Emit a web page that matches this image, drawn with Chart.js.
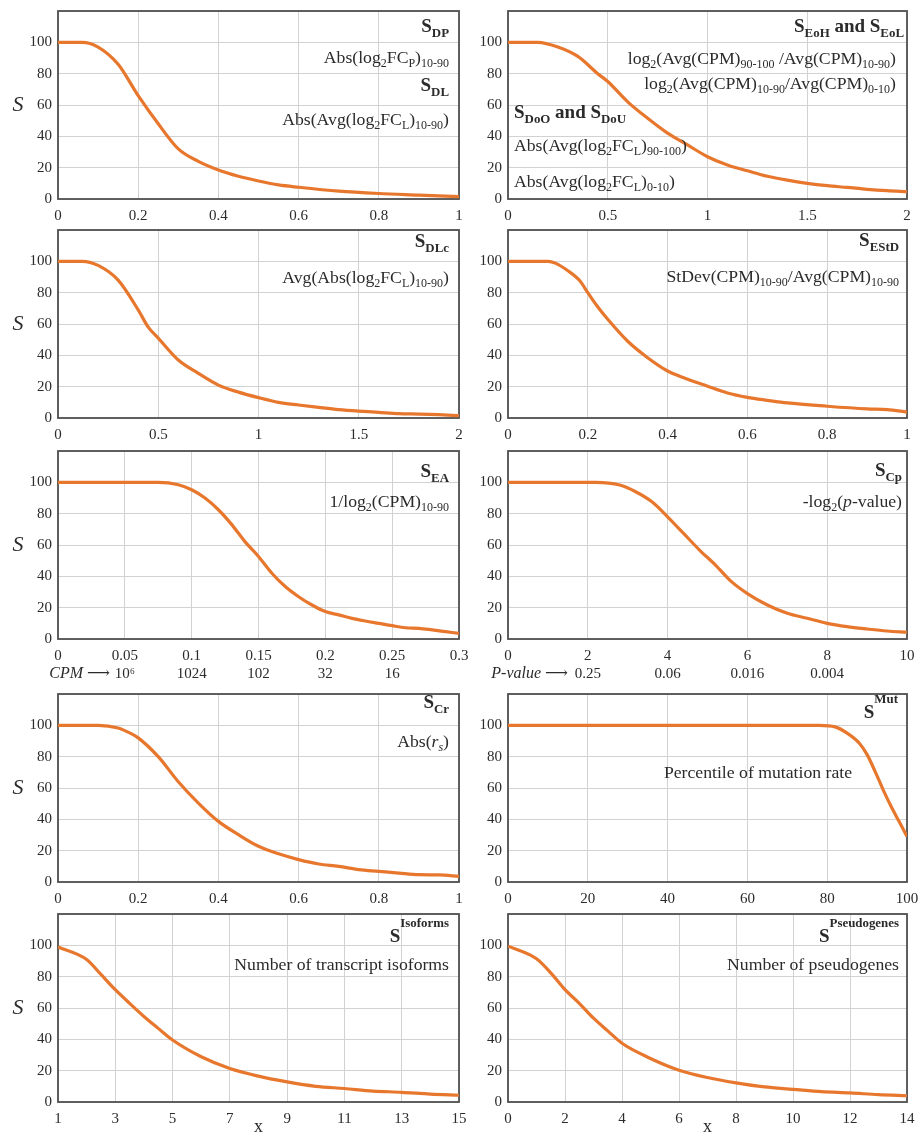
<!DOCTYPE html>
<html>
<head>
<meta charset="utf-8">
<script src="https://cdn.jsdelivr.net/npm/chart.js@4.4.1/dist/chart.umd.min.js"></script>
<style>
  body { margin: 0; background: #fff; }
  #wrap { position: relative; width: 919px; height: 1138px; overflow: hidden; background: #fff; }
  #wrap canvas { position: absolute; }
</style>
</head>
<body>
<div id="wrap"></div>
<script>
// S curves: x positions and S values
const dpX = [0, 0.06, 0.1, 0.15, 0.2, 0.25, 0.3, 0.35, 0.4, 0.45, 0.5, 0.55, 0.6, 0.7, 0.8, 0.9, 1];
const dpS = [100, 100, 97, 86, 66, 48, 32, 24, 18.5, 14.5, 11.5, 9, 7.5, 5, 3.5, 2.5, 1.5];

const eoX = [0, 0.15, 0.25, 0.35, 0.45, 0.5, 0.6, 0.7, 0.8, 0.9, 1, 1.1, 1.2, 1.3, 1.4, 1.5, 1.6, 1.7, 1.8, 1.9, 2];
const eoS = [100, 100, 97, 91, 80, 75, 62, 51.5, 42, 34.5, 27, 21.7, 18, 14.5, 12, 10, 8.5, 7.4, 6.2, 5.3, 4.7];

const dlcX = [0, 0.12, 0.2, 0.3, 0.4, 0.45, 0.5, 0.6, 0.7, 0.8, 0.9, 1, 1.1, 1.2, 1.3, 1.4, 1.5, 1.6, 1.7, 1.8, 1.9, 2];
const dlcS = [100, 100, 97.4, 88, 69, 58, 51, 37, 28.5, 21, 16.5, 13, 10, 8.3, 6.8, 5.4, 4.4, 3.6, 2.8, 2.5, 2.1, 1.5];

const estdX = [0, 0.1, 0.12, 0.15, 0.18, 0.2, 0.22, 0.25, 0.3, 0.35, 0.4, 0.43, 0.5, 0.55, 0.6, 0.65, 0.7, 0.8, 0.9, 0.95, 1];
const estdS = [100, 100, 98.7, 94, 87.6, 80, 72.6, 63, 49, 38.5, 30, 26.7, 20.3, 16, 13.2, 11.3, 9.6, 7.5, 5.8, 5.3, 3.8];

const eaX = [0, 0.075, 0.09, 0.1, 0.11, 0.12, 0.13, 0.14, 0.15, 0.16, 0.17, 0.18, 0.19, 0.2, 0.21, 0.22, 0.23, 0.24, 0.25, 0.26, 0.27, 0.28, 0.29, 0.3];
const eaS = [100, 100, 98.5, 95.3, 90, 82.5, 73, 62, 52.7, 42, 33.5, 27, 21.7, 17.5, 15.4, 13.2, 11.5, 10, 8.5, 7.2, 6.8, 5.8, 4.7, 3.6];

const cpX = [0, 2.2, 2.8, 3.2, 3.6, 4, 4.4, 4.8, 5.2, 5.6, 6, 6.5, 7, 7.5, 8, 8.5, 9, 9.5, 10];
const cpS = [100, 100, 98.3, 94, 87.7, 78, 67.4, 56.8, 47.2, 36.6, 29, 21.7, 16.4, 13.2, 10, 7.9, 6.4, 5.1, 4.3];

const crX = [0, 0.1, 0.15, 0.18, 0.2, 0.25, 0.3, 0.35, 0.4, 0.45, 0.5, 0.55, 0.6, 0.65, 0.7, 0.75, 0.8, 0.85, 0.9, 0.95, 1];
const crS = [100, 100, 98.3, 95, 92, 80, 64, 50.4, 38.7, 30.2, 22.8, 18, 14.3, 11.5, 10, 7.9, 6.8, 5.7, 4.7, 4.5, 3.6];

const mutX = [0, 78, 82, 85, 88, 90, 92, 94, 96, 98, 100];
const mutS = [100, 100, 99, 95, 88.7, 81.3, 70.6, 59, 48.3, 38.7, 29.1];

const isoX = [1, 2, 2.5, 3, 3.5, 4, 4.5, 5, 6, 7, 8, 9, 10, 11, 12, 13, 14, 15];
const isoS = [99, 91, 81.4, 71.7, 63, 54.6, 47, 39.6, 28.9, 21.4, 16.5, 12.8, 10, 8.6, 7, 6.2, 5, 4.3];

const pseX = [0, 1, 1.5, 2, 2.5, 3, 3.5, 4, 5, 6, 7, 8, 9, 10, 11, 12, 13, 14];
const pseS = [99.5, 91.4, 82.4, 71.7, 63, 53.5, 45.4, 37.5, 27.8, 20.3, 15.6, 12.2, 9.6, 8.1, 6.6, 5.8, 4.7, 4];

// second row of tick labels under the S_EA and S_Cp panels
const cpmAt = [0.05, 0.1, 0.15, 0.2, 0.25];
const cpmLabels = ['10⁶', '1024', '102', '32', '16'];
const pvalAt = [2, 4, 6, 8];
const pvalLabels = ['0.25', '0.06', '0.016', '0.004'];

const SERIF = '"Liberation Serif", "DejaVu Serif", serif';
const ink = '#2b2b2b';
const orange = '#e8772e';
const gridCol = '#d2d2d2';
const frameCol = '#505050';
const TXT = 17.7;
const wrap = document.getElementById('wrap');

// draw a line of text made of runs: [text, flags]  B bold, I italic, _ sub, ^ sup
function richText(ctx, x, y, align, runs, base) {
    const parts = runs.map(([t, f = '']) => {
        const small = f.includes('_') || f.includes('^');
        const size = small ? base * 0.68 : base;
        const font = (f.includes('I') ? 'italic ' : '') + (f.includes('B') ? 'bold ' : '') + size.toFixed(1) + 'px ' + SERIF;
        ctx.font = font;
        let dy = 0;
        if (f.includes('_')) dy = base * 0.24;
        if (f.includes('^')) dy = -base * 0.78;
        return { t, font, dy, w: ctx.measureText(t).width };
    });
    const total = parts.reduce((a, p) => a + p.w, 0);
    let cx = align === 'right' ? x - total : x;
    ctx.textAlign = 'left';
    parts.forEach(p => {
        ctx.font = p.font;
        ctx.fillText(p.t, cx, y + p.dy);
        cx += p.w;
    });
}

function notesPlugin(o) {
    return {
        id: 'notes',
        beforeDatasetsDraw(chart) {
            const { ctx, chartArea: a } = chart;
            ctx.save();
            ctx.strokeStyle = frameCol;
            ctx.lineWidth = 1.8;
            ctx.strokeRect(a.left, a.top, a.right - a.left, a.bottom - a.top);
            ctx.restore();
        },
        afterDraw(chart) {
            const { ctx, chartArea: a } = chart;
            ctx.save();
            ctx.fillStyle = ink;
            ctx.textBaseline = 'alphabetic';
            (o.notes || []).forEach(n => {
                const x = (n.side === 'left' ? a.left : a.right) + n.dx;
                const y = (n.fromBottom ? a.bottom : a.top) + n.dy;
                richText(ctx, x, y, n.align || n.side, n.runs, n.size);
            });
            if (o.second) {
                ctx.font = '15px ' + SERIF;
                ctx.textAlign = 'center';
                o.second.at.forEach((v, i) => {
                    ctx.fillText(o.second.labels[i], chart.scales.x.getPixelForValue(v), a.bottom + 39);
                });
            }
            if (o.sLabel) {
                ctx.font = 'italic 22px ' + SERIF;
                ctx.textAlign = 'center';
                ctx.textBaseline = 'middle';
                ctx.fillText('S', 18, chart.scales.y.getPixelForValue(60));
            }
            ctx.restore();
        }
    };
}

const tickFont = { family: SERIF, size: 15 };

function panel(o) {
    const right = o.col === 1;
    const cv = document.createElement('canvas');
    const w = right ? 460 : 476;
    const h = 198 + o.xh;
    cv.width = w;
    cv.height = h;
    cv.style.left = (right ? 459 : 0) + 'px';
    cv.style.top = o.top + 'px';
    wrap.appendChild(cv);

    const scales = {
        x: {
            type: 'linear',
            min: o.min,
            max: o.max,
            ticks: {
                stepSize: o.step, autoSkip: false, maxRotation: 0, minRotation: 0, padding: 8,
                font: tickFont, color: ink,
                callback: v => String(+v.toFixed(4))
            },
            grid: { color: gridCol, lineWidth: 1, drawTicks: false },
            border: { display: false },
            title: o.xTitle
                ? { display: true, text: o.xTitle, font: { family: SERIF, size: 18 }, color: ink, padding: { top: 0, bottom: 0 } }
                : { display: false },
            afterFit: s => { s.height = o.xh; s.paddingLeft = 0; s.paddingRight = 0; }
        },
        y: {
            min: 0,
            max: 120,
            ticks: { stepSize: 20, padding: 6, font: tickFont, color: ink, callback: v => (v > 100 ? '' : v) },
            grid: { color: gridCol, lineWidth: 1, drawTicks: false },
            border: { display: false },
            afterFit: s => { s.width = right ? 49 : 58; s.paddingTop = 0; s.paddingBottom = 0; }
        }
    };

    new Chart(cv, {
        type: 'line',
        data: {
            datasets: [{
                data: o.xs.map((x, i) => ({ x: x, y: o.ys[i] })),
                borderColor: orange,
                borderWidth: 3.2,
                pointRadius: 0,
                cubicInterpolationMode: 'monotone',
                fill: false
            }]
        },
        options: {
            responsive: false,
            animation: false,
            layout: { padding: { top: 10, right: right ? 12 : 17, left: 0, bottom: 0 } },
            plugins: { legend: { display: false }, tooltip: { enabled: false } },
            scales: scales
        },
        plugins: [notesPlugin(o)]
    });
}

const sub = t => [t, '_'];

panel({
    col: 0, top: 1, xh: 26, min: 0, max: 1, step: 0.2, xs: dpX, ys: dpS, sLabel: true,
    notes: [
        { side: 'right', dx: -10, dy: 21, size: 19, runs: [['S', 'B'], ['DP', 'B_']] },
        { side: 'right', dx: -10, dy: 52, size: TXT, runs: [['Abs(log'], sub('2'), ['FC'], sub('P'), [')'], sub('10-90')] },
        { side: 'right', dx: -10, dy: 80, size: 19, runs: [['S', 'B'], ['DL', 'B_']] },
        { side: 'right', dx: -10, dy: 114, size: TXT, runs: [['Abs(Avg(log'], sub('2'), ['FC'], sub('L'), [')'], sub('10-90'), [')']] }
    ]
});

panel({
    col: 1, top: 1, xh: 26, min: 0, max: 2, step: 0.5, xs: eoX, ys: eoS,
    notes: [
        { side: 'right', dx: -3, dy: 21, size: 19, runs: [['S', 'B'], ['EoH', 'B_'], [' and S', 'B'], ['EoL', 'B_']] },
        { side: 'right', dx: -11, dy: 53, size: TXT, runs: [['log'], sub('2'), ['(Avg(CPM)'], sub('90-100'), [' /Avg(CPM)'], sub('10-90'), [')']] },
        { side: 'right', dx: -11, dy: 78, size: TXT, runs: [['log'], sub('2'), ['(Avg(CPM)'], sub('10-90'), ['/Avg(CPM)'], sub('0-10'), [')']] },
        { side: 'left', dx: 6, dy: 107, size: 19, runs: [['S', 'B'], ['DoO', 'B_'], [' and S', 'B'], ['DoU', 'B_']] },
        { side: 'left', dx: 6, dy: 140, size: TXT, runs: [['Abs(Avg(log'], sub('2'), ['FC'], sub('L'), [')'], sub('90-100'), [')']] },
        { side: 'left', dx: 6, dy: 176, size: TXT, runs: [['Abs(Avg(log'], sub('2'), ['FC'], sub('L'), [')'], sub('0-10'), [')']] }
    ]
});

panel({
    col: 0, top: 220, xh: 26, min: 0, max: 2, step: 0.5, xs: dlcX, ys: dlcS, sLabel: true,
    notes: [
        { side: 'right', dx: -10, dy: 17, size: 19, runs: [['S', 'B'], ['DLc', 'B_']] },
        { side: 'right', dx: -10, dy: 53, size: TXT, runs: [['Avg(Abs(log'], sub('2'), ['FC'], sub('L'), [')'], sub('10-90'), [')']] }
    ]
});

panel({
    col: 1, top: 220, xh: 26, min: 0, max: 1, step: 0.2, xs: estdX, ys: estdS,
    notes: [
        { side: 'right', dx: -8, dy: 16, size: 19, runs: [['S', 'B'], ['EStD', 'B_']] },
        { side: 'right', dx: -8, dy: 52, size: TXT, runs: [['StDev(CPM)'], sub('10-90'), ['/Avg(CPM)'], sub('10-90')] }
    ]
});

panel({
    col: 0, top: 441, xh: 46, min: 0, max: 0.3, step: 0.05, xs: eaX, ys: eaS, sLabel: true,
    second: { at: cpmAt, labels: cpmLabels },
    notes: [
        { side: 'right', dx: -10, dy: 26, size: 19, runs: [['S', 'B'], ['EA', 'B_']] },
        { side: 'right', dx: -10, dy: 56, size: TXT, runs: [['1/log'], sub('2'), ['(CPM)'], sub('10-90')] },
        { side: 'left', align: 'right', dx: 52, fromBottom: true, dy: 39, size: 16, runs: [['CPM', 'I'], [' ⟶']] }
    ]
});

panel({
    col: 1, top: 441, xh: 46, min: 0, max: 10, step: 2, xs: cpX, ys: cpS,
    second: { at: pvalAt, labels: pvalLabels },
    notes: [
        { side: 'right', dx: -5, dy: 25, size: 19, runs: [['S', 'B'], ['Cp', 'B_']] },
        { side: 'right', dx: -5, dy: 56, size: TXT, runs: [['-log'], sub('2'), ['('], ['p', 'I'], ['-value)']] },
        { side: 'left', align: 'right', dx: 60, fromBottom: true, dy: 39, size: 16, runs: [['P-value', 'I'], [' ⟶']] }
    ]
});

panel({
    col: 0, top: 684, xh: 26, min: 0, max: 1, step: 0.2, xs: crX, ys: crS, sLabel: true,
    notes: [
        { side: 'right', dx: -10, dy: 14, size: 19, runs: [['S', 'B'], ['Cr', 'B_']] },
        { side: 'right', dx: -10, dy: 53, size: TXT, runs: [['Abs('], ['r', 'I'], ['s', 'I_'], [')']] }
    ]
});

panel({
    col: 1, top: 684, xh: 26, min: 0, max: 100, step: 20, xs: mutX, ys: mutS,
    notes: [
        { side: 'right', dx: -9, dy: 24, size: 19, runs: [['S', 'B'], ['Mut', 'B^']] },
        { side: 'right', dx: -55, dy: 84, size: TXT, runs: [['Percentile of mutation rate']] }
    ]
});

panel({
    col: 0, top: 904, xh: 36, min: 1, max: 15, step: 2, xs: isoX, ys: isoS, sLabel: true, xTitle: 'x',
    notes: [
        { side: 'right', dx: -10, dy: 28, size: 19, runs: [['S', 'B'], ['Isoforms', 'B^']] },
        { side: 'right', dx: -10, dy: 56, size: TXT, runs: [['Number of transcript isoforms']] }
    ]
});

panel({
    col: 1, top: 904, xh: 36, min: 0, max: 14, step: 2, xs: pseX, ys: pseS, xTitle: 'x',
    notes: [
        { side: 'right', dx: -8, dy: 28, size: 19, runs: [['S', 'B'], ['Pseudogenes', 'B^']] },
        { side: 'right', dx: -8, dy: 56, size: TXT, runs: [['Number of pseudogenes']] }
    ]
});
</script>
</body>
</html>
